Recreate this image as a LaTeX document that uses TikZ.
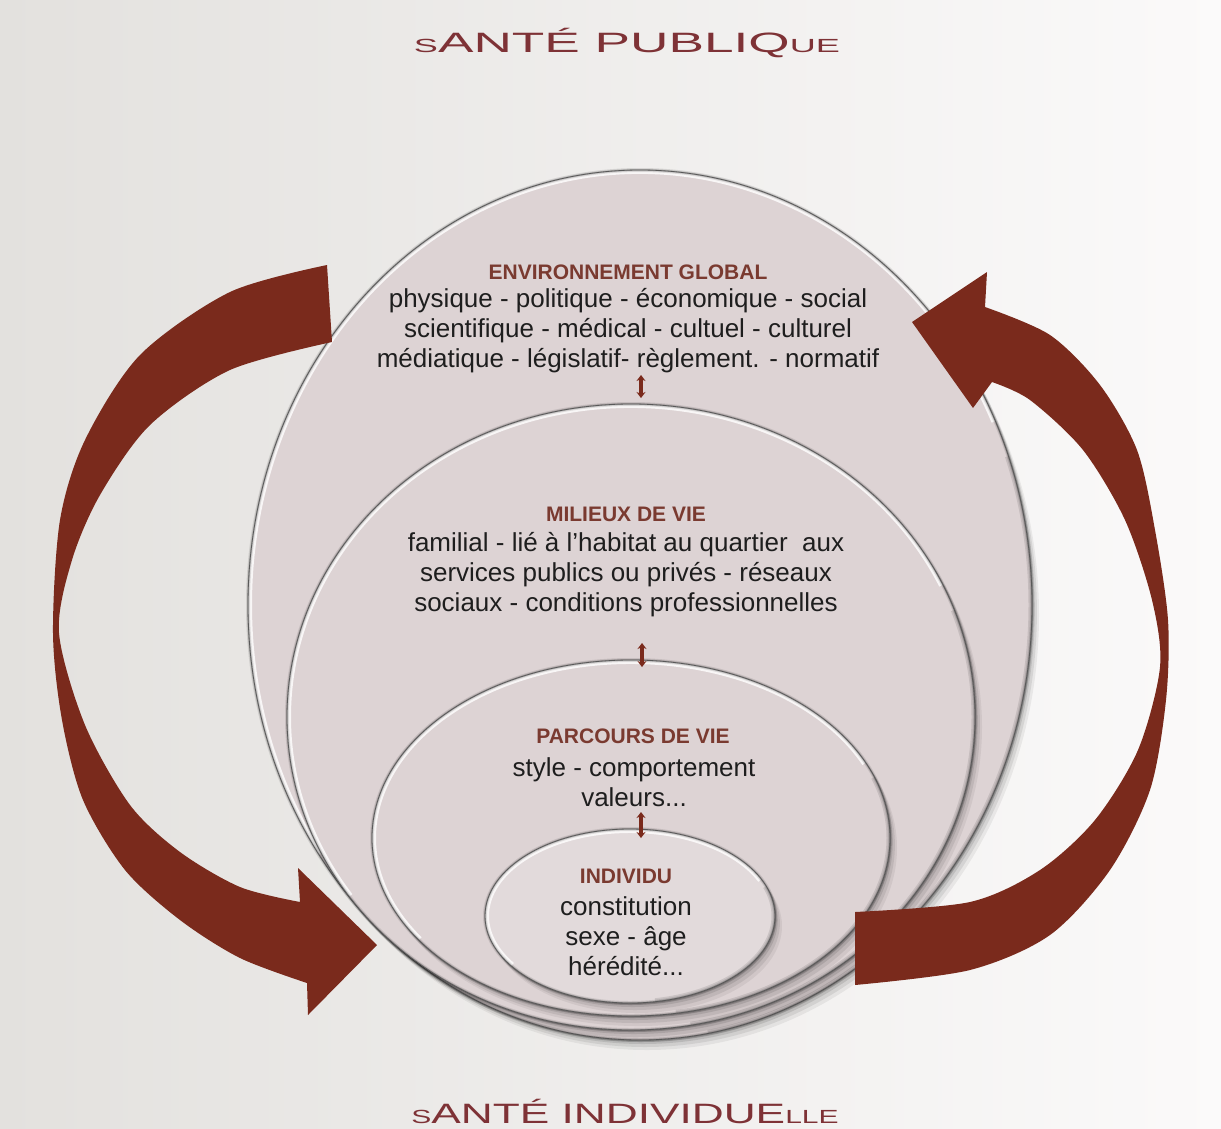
\documentclass[tikz,border=0pt]{standalone}
\usepackage{fontspec}
\setmainfont{Liberation Sans}
\usetikzlibrary{arrows.meta}
\definecolor{arrowred}{HTML}{7A2A1C}
\definecolor{ellfill}{HTML}{DDD3D4}
\definecolor{ellfilltwo}{HTML}{E2DADB}
\definecolor{headcol}{HTML}{7A3A30}
\definecolor{bodycol}{HTML}{1E1E1E}
\definecolor{titlecol}{HTML}{7E3236}
\definecolor{bgleft}{HTML}{E3E1DE}
\definecolor{bgright}{HTML}{FBFAFA}
\newcommand{\ellayer}[5]{%
  \foreach \sh/\op in {10/0.06,7/0.08,4/0.10,2/0.12}{
    \fill[black,opacity=\op] (#1+\sh*0.7,#2+\sh) ellipse [x radius=#3pt, y radius=#4pt];
  }
  \fill[#5] (#1,#2) ellipse [x radius=#3pt, y radius=#4pt];
  \begin{scope}
    \clip (#1,#2) ellipse [x radius=#3pt, y radius=#4pt];
    \draw[white, line width=8pt, opacity=0.8] (#1,#2) ++(25:#3pt and #4pt)
      arc [start angle=25, end angle=215, x radius=#3pt, y radius=#4pt];
    \draw[black, line width=7pt, opacity=0.10] (#1,#2) ++(-80:#3pt and #4pt)
      arc [start angle=-80, end angle=20, x radius=#3pt, y radius=#4pt];
  \end{scope}
  \draw[black, line width=4pt, opacity=0.10] (#1,#2) ellipse [x radius=#3pt, y radius=#4pt];
  \draw[black, line width=2pt, opacity=0.18] (#1,#2) ellipse [x radius=#3pt, y radius=#4pt];
  \draw[gray!70!black, line width=0.8pt] (#1,#2) ellipse [x radius=#3pt, y radius=#4pt];
}
\tikzset{
  headtxt/.style={text=headcol, font=\bfseries\fontsize{21}{24}\selectfont, inner sep=0pt},
  bodytxt/.style={text=bodycol, font=\fontsize{26}{30}\selectfont, align=center, inner sep=0pt},
  dblarrow/.style={arrowred, line width=3.5pt, {Stealth[length=6pt,width=9pt]}-{Stealth[length=6pt,width=9pt]}},
  titletxt/.style={text=titlecol, inner sep=0pt}
}
\begin{document}
\begin{tikzpicture}[x=1pt,y=-1pt]
\useasboundingbox (0,0) rectangle (1221,1128);
\shade[left color=bgleft, right color=bgright] (0,0) rectangle (1221,1128);

% ellipses
\ellayer{640}{605}{392}{435}{ellfill}
\ellayer{631}{717}{344}{313}{ellfill}
\ellayer{631}{838}{259}{178}{ellfill}
\ellayer{630}{916}{145}{87}{ellfilltwo}

% titles
\node[titletxt] (t1) at (627,43) {\scalebox{1.9}[1]{\fontsize{19}{19}\selectfont S\fontsize{28}{28}\selectfont ANTÉ PUBLIQ\fontsize{19}{19}\selectfont UE}};
\node[titletxt] (t2) at (625,1111) {\scalebox{1.58}[1]{\fontsize{19}{19}\selectfont S\fontsize{28}{28}\selectfont ANTÉ INDIVIDUE\fontsize{19}{19}\selectfont LLE}};

% texts
\node[headtxt] (h1) at (628,272) {ENVIRONNEMENT GLOBAL};
\node[bodytxt] (b1) at (628,331) {physique - politique - économique - social\\scientifique - médical - cultuel - culturel\\médiatique - législatif- règlement. - normatif};
\node[headtxt] (h2) at (626,514) {MILIEUX DE VIE};
\node[bodytxt] (b2) at (626,574.5) {familial - lié à l'habitat au quartier\ \ aux\\services publics ou privés - réseaux\\sociaux - conditions professionnelles};
\node[headtxt] (h3) at (633,736) {PARCOURS DE VIE};
\node[bodytxt] (b3) at (634,782.5) {style - comportement\\valeurs...};
\node[headtxt] (h4) at (626,876) {INDIVIDU};
\node[bodytxt] (b4) at (626,936) {constitution\\sexe - âge\\hérédité...};

% small double arrows
\coordinate (a1t) at (641,375);
\coordinate (a1b) at (641,398);
\coordinate (a2t) at (642,643);
\coordinate (a2b) at (642,667);
\coordinate (a3t) at (641,812);
\coordinate (a3b) at (641,838);
\draw[dblarrow] (a1t) -- (a1b);
\draw[dblarrow] (a2t) -- (a2b);
\draw[dblarrow] (a3t) -- (a3b);

% left big arrow
\fill[arrowred] plot[smooth] coordinates {(327,265) (230,292) (140,355) (85,440) (60,520) (53,633) (62,720) (83,800) (125,870) (180,920) (240,958) (307,983)}
  -- (308,1015) -- (377,945) -- (298,868) -- (300,902)
  -- plot[smooth] coordinates {(300,902) (240,887) (180,852) (130,805) (85,725) (59,633) (72,560) (100,495) (150,425) (230,370) (332,342)}
  -- cycle;

% right big arrow
\fill[arrowred] plot[smooth] coordinates {(855,985) (970,970) (1050,935) (1110,870) (1150,790) (1166,700) (1168,620) (1155,530) (1137,450) (1100,385) (1050,335) (985,307)}
  -- (987,272) -- (912,322) -- (973,408) -- (992,382)
  -- plot[smooth] coordinates {(992,382) (1030,400) (1083,450) (1125,520) (1152,600) (1160,667) (1138,750) (1095,820) (1040,870) (970,902) (855,912)}
  -- cycle;
\end{tikzpicture}
\end{document}
